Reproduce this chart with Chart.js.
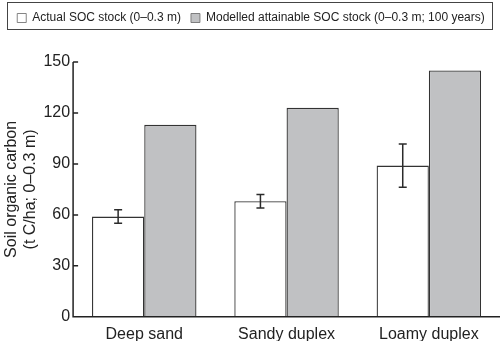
<!DOCTYPE html>
<html>
<head>
<meta charset="utf-8">
<script src="https://cdn.jsdelivr.net/npm/chart.js@4"></script>
<style>
  html, body { margin: 0; padding: 0; background: #fff; }
  #wrap { width: 500px; height: 341px; }
</style>
</head>
<body>
<div id="wrap"><canvas id="socChart"></canvas></div>
<script>
// Soil groups and SOC values (t C/ha, 0-0.3 m)
const categories = ["Deep sand", "Sandy duplex", "Loamy duplex"];
const actualSoc = [59, 68, 89];
const actualErr = [4, 4, 12.7];
const modelledSoc = [113, 123, 145];
const yTicks = [0, 30, 60, 90, 120, 150];

const FONT = "'Liberation Sans', Arial, Helvetica, sans-serif";

// push the plot down below the legend box
const legendGap = {
  id: "legendGap",
  beforeInit(chart) {
    const origFit = chart.legend.fit;
    chart.legend.fit = function () {
      origFit.bind(chart.legend)();
      this.height += 28;
    };
  }
};

// error bars on the actual SOC bars
const errorBars = {
  id: "errorBars",
  afterDatasetsDraw(chart) {
    const ctx = chart.ctx;
    const yScale = chart.scales.y;
    const meta = chart.getDatasetMeta(0);
    ctx.save();
    ctx.strokeStyle = "#2b2b2b";
    ctx.lineWidth = 1.5;
    meta.data.forEach((bar, i) => {
      const x = bar.x;
      const top = yScale.getPixelForValue(actualSoc[i] + actualErr[i]);
      const bot = yScale.getPixelForValue(actualSoc[i] - actualErr[i]);
      ctx.beginPath();
      ctx.moveTo(x, top); ctx.lineTo(x, bot);
      ctx.moveTo(x - 4, top); ctx.lineTo(x + 4, top);
      ctx.moveTo(x - 4, bot); ctx.lineTo(x + 4, bot);
      ctx.stroke();
    });
    ctx.restore();
  }
};

// axis lines, inward ticks on y, and box round the legend
const frame = {
  id: "frame",
  afterDraw(chart) {
    const ctx = chart.ctx;
    const area = chart.chartArea;
    const yScale = chart.scales.y;
    ctx.save();
    ctx.strokeStyle = "#222";
    ctx.lineWidth = 1.5;
    ctx.beginPath();
    ctx.moveTo(area.left, area.top);
    ctx.lineTo(area.left, area.bottom);
    ctx.lineTo(area.right, area.bottom);
    yTicks.forEach(v => {
      const y = yScale.getPixelForValue(v);
      ctx.moveTo(area.left, y);
      ctx.lineTo(area.left + 5, y);
    });
    ctx.stroke();

    ctx.strokeStyle = "#444";
    ctx.lineWidth = 1;
    ctx.strokeRect(7.5, 2.5, 485, 27);
    ctx.restore();
  }
};

const ctx = document.getElementById("socChart").getContext("2d");
new Chart(ctx, {
  type: "bar",
  data: {
    labels: categories,
    datasets: [
      {
        label: "Actual SOC stock (0\u20130.3 m)",
        data: actualSoc,
        backgroundColor: "#ffffff",
        borderColor: "#333333",
        borderWidth: 1.3,
        borderSkipped: "bottom",
        barPercentage: 1,
        categoryPercentage: 0.734
      },
      {
        label: "Modelled attainable SOC stock (0\u20130.3 m; 100 years)",
        data: modelledSoc,
        backgroundColor: "#c0c1c3",
        borderColor: "#333333",
        borderWidth: 1.3,
        borderSkipped: "bottom",
        barPercentage: 1,
        categoryPercentage: 0.734
      }
    ]
  },
  options: {
    responsive: true,
    maintainAspectRatio: false,
    animation: false,
    layout: { padding: { left: 2, right: 0, top: 2, bottom: -11 } },
    plugins: {
      tooltip: { enabled: false },
      legend: {
        position: "top",
        labels: {
          color: "#222",
          font: { family: FONT, size: 12 },
          boxWidth: 9,
          boxHeight: 9,
          padding: 10,
          generateLabels(chart) {
            const items = Chart.defaults.plugins.legend.labels.generateLabels(chart);
            items.forEach(it => { it.lineWidth = 0.8; it.strokeStyle = "#666"; });
            return items;
          }
        }
      }
    },
    scales: {
      x: {
        grid: { display: false, drawTicks: false },
        border: { display: false },
        ticks: {
          color: "#222",
          font: { family: FONT, size: 16 },
          padding: 8
        }
      },
      y: {
        min: 0,
        max: 150,
        afterBuildTicks(scale) {
          scale.ticks = yTicks.map(v => ({ value: v }));
        },
        grid: { display: false, drawTicks: false },
        border: { display: false },
        ticks: {
          color: "#222",
          font: { family: FONT, size: 16 },
          padding: 3
        },
        title: {
          display: true,
          text: ["Soil organic carbon", "(t C/ha; 0\u20130.3 m)"],
          color: "#222",
          font: { family: FONT, size: 16 },
          padding: { top: 0, bottom: 0 }
        }
      }
    }
  },
  plugins: [legendGap, errorBars, frame]
});
</script>
</body>
</html>
